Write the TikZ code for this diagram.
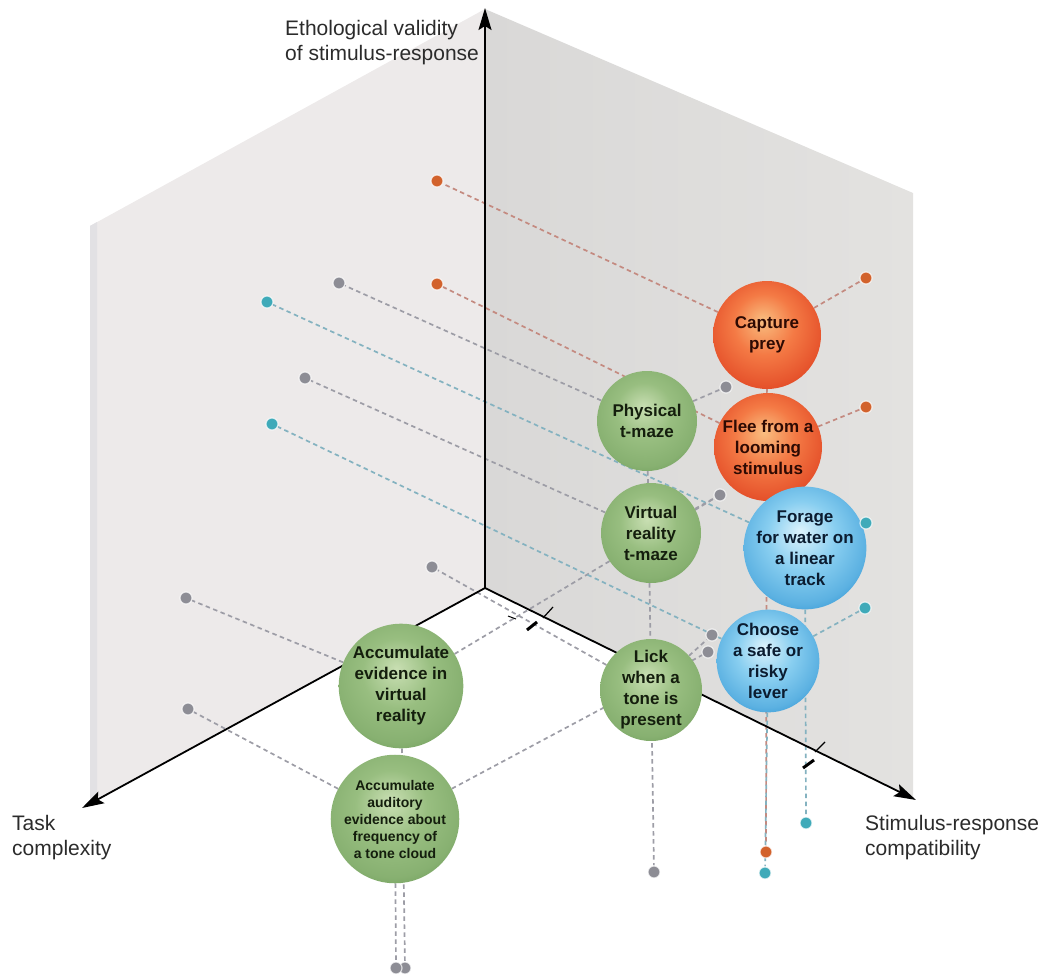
\documentclass[tikz,border=0pt]{standalone}
\usepackage{fontspec}
\setmainfont{Liberation Sans}
\usetikzlibrary{arrows.meta}
\pgfdeclarelayer{back}
\pgfdeclarelayer{lines}
\pgfsetlayers{back,lines,main}

\definecolor{gHi}{HTML}{C9DFB3}
\definecolor{gMid}{HTML}{98BE80}
\definecolor{gEdge}{HTML}{6E9C5A}
\definecolor{rHi}{HTML}{F9BE80}
\definecolor{rMid}{HTML}{F47A45}
\definecolor{rEdge}{HTML}{DE3E1E}
\definecolor{bHi}{HTML}{DDF3FC}
\definecolor{bMid}{HTML}{88CEF0}
\definecolor{bEdge}{HTML}{2F94D3}
\definecolor{gText}{HTML}{141E0D}
\definecolor{rText}{HTML}{2E0A03}
\definecolor{bText}{HTML}{0B1C30}
\definecolor{wallL}{HTML}{EDEAEA}
\definecolor{wallLedge}{HTML}{E2E1E4}
\definecolor{wallRa}{HTML}{D9D8D7}
\definecolor{wallRb}{HTML}{E3E2E0}
\definecolor{dotOr}{HTML}{D2622C}
\definecolor{dotGr}{HTML}{8D8D95}
\definecolor{dotTe}{HTML}{3FAAB9}
\definecolor{lnOr}{HTML}{C48A80}
\definecolor{lnGr}{HTML}{9D9DA6}
\definecolor{lnTe}{HTML}{84B2C0}
\definecolor{labelC}{HTML}{2B2B2B}

\pgfdeclareradialshading{gball}{\pgfpoint{-2bp}{7bp}}{color(0bp)=(gHi); color(14bp)=(gMid); color(26bp)=(gMid!60!gEdge); color(33bp)=(gEdge); color(50bp)=(gEdge)}
\pgfdeclareradialshading{rball}{\pgfpoint{-2bp}{7bp}}{color(0bp)=(rHi); color(14bp)=(rMid); color(26bp)=(rMid!40!rEdge); color(33bp)=(rEdge); color(50bp)=(rEdge)}
\pgfdeclareradialshading{bball}{\pgfpoint{-2bp}{7bp}}{color(0bp)=(bHi); color(14bp)=(bMid); color(26bp)=(bMid!50!bEdge); color(33bp)=(bEdge); color(50bp)=(bEdge)}

\begin{document}
\begin{tikzpicture}[x=1pt,y=-1pt,
  bub/.style={circle, inner sep=0pt, align=center, shade,
    font=\bfseries\fontsize{17}{21}\selectfont},
  gbub/.style={bub, shading=gball, text=gText},
  rbub/.style={bub, shading=rball, text=rText},
  bbub/.style={bub, shading=bball, text=bText},
  dotb/.style={circle, inner sep=0pt, minimum size=12pt, draw=white, draw opacity=0.7, line width=1.2pt},
  odot/.style={dotb, fill=dotOr},
  gdot/.style={dotb, fill=dotGr},
  tdot/.style={dotb, fill=dotTe},
  pl/.style={line width=1.7pt, dash pattern=on 4.5pt off 3.5pt},
  oline/.style={pl, draw=lnOr},
  gline/.style={pl, draw=lnGr},
  tline/.style={pl, draw=lnTe},
  axis/.style={line width=1.8pt, draw=black, -{Stealth[length=22pt,width=13pt,inset=4pt]}},
  axlabel/.style={inner sep=0pt, anchor=north west, align=left, text=labelC,
    font=\fontsize{21}{25}\selectfont}
]
\useasboundingbox (0,0) rectangle (1052,979);

% walls
\begin{pgfonlayer}{back}
  \fill[wallL] (90,226) -- (485,9) -- (485,588) -- (90,803) -- cycle;
  \fill[wallLedge] (90,226) -- (97,222) -- (97,799) -- (90,803) -- cycle;
  \shade[left color=wallRa, right color=wallRb] (485,9) -- (913,193) -- (913,799) -- (485,588) -- cycle;
\end{pgfonlayer}

% axes
\coordinate (O) at (485,588);
\coordinate (Up) at (485,8);
\coordinate (Lt) at (82,808);
\coordinate (Rt) at (916,800);

% bubbles
\node[rbub, minimum size=108pt] (cap) at (767,335) {Capture\\prey};
\node[rbub, minimum size=108pt] (flee) at (768,447) {Flee from a\\looming\\stimulus};
\node[gbub, minimum size=100pt] (phys) at (647,421) {Physical\\t-maze};
\node[gbub, minimum size=100pt] (vrt) at (651,533) {Virtual\\reality\\t-maze};
\node[bbub, minimum size=104pt] (forage) at (805,548) {Forage\\for water on\\a linear\\track};
\node[bbub, minimum size=100pt] (choose) at (768,661) {Choose\\a safe or\\risky\\lever};
\node[gbub, minimum size=102pt] (lick) at (651,690) {Lick\\when a\\tone is\\present};
\node[gbub, minimum size=122pt] (accvr) at (401,686) {Accumulate\\evidence in\\virtual\\reality};
\node[gbub, minimum size=122pt, font=\bfseries\fontsize{14}{17}\selectfont] (accaud) at (395,819) {Accumulate\\auditory\\evidence about\\frequency of\\a tone cloud};

% dots
\node[odot] (oCL) at (437,181) {};
\node[odot] (oFL) at (437,284) {};
\node[odot] (oCR) at (866,278) {};
\node[odot] (oFR) at (866,407) {};
\node[odot] (oD) at (766,852) {};
\node[gdot] (gPL) at (339,283) {};
\node[gdot] (gVL) at (305,378) {};
\node[gdot] (gLL) at (432,567) {};
\node[gdot] (gAL) at (186,598) {};
\node[gdot] (gUL) at (188,709) {};
\node[gdot] (gPR) at (726,387) {};
\node[gdot] (gVR) at (720,495) {};
\node[gdot] (gLR) at (712,635) {};
\node[gdot] (gUR) at (708,652) {};
\node[gdot] (gPD) at (654,872) {};
\node[gdot] (gAD) at (405,968) {};
\node[gdot] (gUD) at (396,968) {};
\node[tdot] (tFL) at (267,302) {};
\node[tdot] (tCL) at (272,424) {};
\node[tdot] (tFR) at (866,523) {};
\node[tdot] (tCR) at (865,608) {};
\node[tdot] (tFD) at (806,823) {};
\node[tdot] (tCD) at (765,873) {};

\begin{pgfonlayer}{lines}
  % projection lines
  \draw[oline] (cap) -- (oCL);
  \draw[oline] (cap) -- (oCR);
  \draw[oline] (cap) -- (oD);
  \draw[oline] (flee) -- (oFL);
  \draw[oline] (flee) -- (oFR);
  \draw[gline] (phys) -- (gPL);
  \draw[gline] (phys) -- (gPR);
  \draw[gline] (phys) -- (gPD);
  \draw[gline] (vrt) -- (gVL);
  \draw[gline] (vrt) -- (gVR);
  \draw[gline] (lick) -- (gLL);
  \draw[gline] (lick) -- (gLR);
  \draw[gline] (accvr) -- (gAL);
  \draw[gline] (accvr) -- (gVR);
  \draw[gline] (accvr) -- (gAD);
  \draw[gline] (accaud) -- (gUL);
  \draw[gline] (accaud) -- (gUR);
  \draw[gline] (accaud) -- (gUD);
  \draw[tline] (forage) -- (tFL);
  \draw[tline] (forage) -- (tFR);
  \draw[tline] (forage) -- (tFD);
  \draw[tline] (choose) -- (tCL);
  \draw[tline] (choose) -- (tCR);
  \draw[tline] (choose) -- (tCD);
  % axes
  \draw[axis] (O) -- (Up);
  \draw[axis] (O) -- (Lt);
  \draw[axis] (O) -- (Rt);
  % axis marks
  \draw[line width=1.2pt] (543,618) -- (553,607);
  \draw[line width=1pt] (508,616) -- (516,619);
  \draw[line width=3pt] (527,630) -- (537,622);
  \draw[line width=1.2pt] (815,752) -- (825,742);
  \draw[line width=3pt] (803,768) -- (814,760);
\end{pgfonlayer}

% axis labels
\node[axlabel] (ylab) at (285,20) {Ethological validity\\of stimulus-response};
\node[axlabel] (xlab) at (12,815) {Task\\complexity};
\node[axlabel] (zlab) at (865,815) {Stimulus-response\\compatibility};
\end{tikzpicture}
\end{document}
